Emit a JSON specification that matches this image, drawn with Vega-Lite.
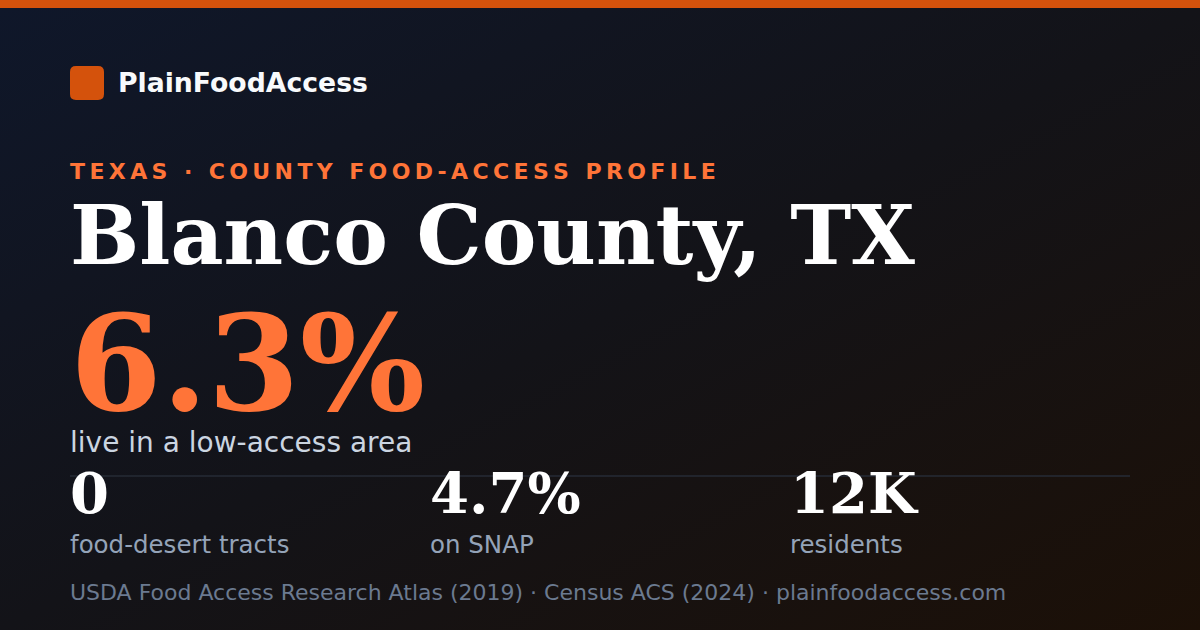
{
  "$schema": "https://vega.github.io/schema/vega-lite/v6.json",
  "width": 1200,
  "height": 630,
  "autosize": {"type": "fit", "contains": "padding"},
  "padding": {"top": 8, "left": 0, "right": 0, "bottom": 0},
  "background": "#d4520c",
  "config": {
    "view": {
      "stroke": null,
      "fill": {
        "gradient": "linear",
        "x1": 0, "y1": 0, "x2": 1, "y2": 1,
        "stops": [
          {"offset": 0, "color": "#0f172a"},
          {"offset": 0.5, "color": "#131318"},
          {"offset": 1, "color": "#1c1007"}
        ]
      }
    },
    "text": {"font": "DejaVu Sans", "align": "left", "baseline": "alphabetic"}
  },
  "data": {
    "values": [
      {"role": "brand", "column": "1", "text": "PlainFoodAccess"},
      {"role": "kicker", "column": "1", "text": "T\u2009E\u2009X\u2009A\u2009S\u2009 \u2009·\u2009 \u2009C\u2009O\u2009U\u2009N\u2009T\u2009Y\u2009 \u2009F\u2009O\u2009O\u2009D\u2009-\u2009A\u2009C\u2009C\u2009E\u2009S\u2009S\u2009 \u2009P\u2009R\u2009O\u2009F\u2009I\u2009L\u2009E"},
      {"role": "title", "column": "1", "text": "Blanco County, TX"},
      {"role": "headline", "column": "1", "text": "6.3%"},
      {"role": "headline_label", "column": "1", "text": "live in a low-access area"},
      {"role": "divider", "column": "1", "text": ""},
      {"role": "stat_value", "column": "1", "text": "0"},
      {"role": "stat_value", "column": "2", "text": "4.7%"},
      {"role": "stat_value", "column": "3", "text": "12K"},
      {"role": "stat_label", "column": "1", "text": "food-desert tracts"},
      {"role": "stat_label", "column": "2", "text": "on SNAP"},
      {"role": "stat_label", "column": "3", "text": "residents"},
      {"role": "source", "column": "1", "text": "USDA Food Access Research Atlas (2019) · Census ACS (2024) · plainfoodaccess.com"}
    ]
  },
  "encoding": {
    "x": {
      "field": "column", "type": "nominal", "axis": null,
      "scale": {"type": "point", "domain": ["1", "2", "3", "4"], "range": [70, 1150], "padding": 0}
    },
    "y": {
      "field": "role", "type": "nominal", "axis": null,
      "scale": {
        "type": "point",
        "domain": ["brand", "kicker", "title", "headline", "headline_label", "divider", "stat_value", "stat_label", "source"],
        "range": [75, 592],
        "padding": 0
      }
    }
  },
  "layer": [
    {
      "transform": [{"filter": "datum.role == 'brand'"}],
      "mark": {
        "type": "point", "filled": true, "opacity": 1, "color": "#d4520c", "size": 1156, "xOffset": 17,
        "shape": "M -0.65 -1 L 0.65 -1 Q 1 -1 1 -0.65 L 1 0.65 Q 1 1 0.65 1 L -0.65 1 Q -1 1 -1 0.65 L -1 -0.65 Q -1 -1 -0.65 -1 Z"
      }
    },
    {
      "transform": [{"filter": "datum.role == 'brand'"}],
      "mark": {"type": "text", "dx": 48, "dy": 9.3, "fontSize": 26.7, "fontWeight": "bold", "color": "#f8fafc"},
      "encoding": {"text": {"field": "text"}}
    },
    {
      "transform": [{"filter": "datum.role == 'kicker'"}],
      "mark": {"type": "text", "dy": 30.9, "fontSize": 22, "fontWeight": "bold", "color": "#ff7438"},
      "encoding": {"text": {"field": "text"}}
    },
    {
      "transform": [{"filter": "datum.role == 'title'"}],
      "mark": {"type": "text", "dy": 51.75, "font": "DejaVu Serif", "fontSize": 82, "fontWeight": "bold", "color": "#ffffff"},
      "encoding": {"text": {"field": "text"}}
    },
    {
      "transform": [{"filter": "datum.role == 'headline'"}],
      "mark": {"type": "text", "dy": 133.1, "font": "DejaVu Serif", "fontSize": 132, "fontWeight": "bold", "color": "#ff7438"},
      "encoding": {"text": {"field": "text"}}
    },
    {
      "transform": [{"filter": "datum.role == 'headline_label'"}],
      "mark": {"type": "text", "dy": 110.5, "fontSize": 28, "color": "#cbd5e1"},
      "encoding": {"text": {"field": "text"}}
    },
    {
      "transform": [{"filter": "datum.role == 'divider'"}],
      "mark": {"type": "rule", "yOffset": 69.9, "x2Offset": -20, "color": "#262b36", "strokeWidth": 1.5},
      "encoding": {"x2": {"datum": "4"}}
    },
    {
      "transform": [{"filter": "datum.role == 'stat_value'"}],
      "mark": {"type": "text", "dy": 42.25, "font": "DejaVu Serif", "fontSize": 56, "fontWeight": "bold", "color": "#ffffff"},
      "encoding": {"text": {"field": "text"}}
    },
    {
      "transform": [{"filter": "datum.role == 'stat_label'"}],
      "mark": {"type": "text", "dy": 17.5, "fontSize": 24.5, "color": "#94a3b8"},
      "encoding": {"text": {"field": "text"}}
    },
    {
      "transform": [{"filter": "datum.role == 'source'"}],
      "mark": {"type": "text", "fontSize": 22, "color": "#6b7a90"},
      "encoding": {"text": {"field": "text"}}
    }
  ]
}
